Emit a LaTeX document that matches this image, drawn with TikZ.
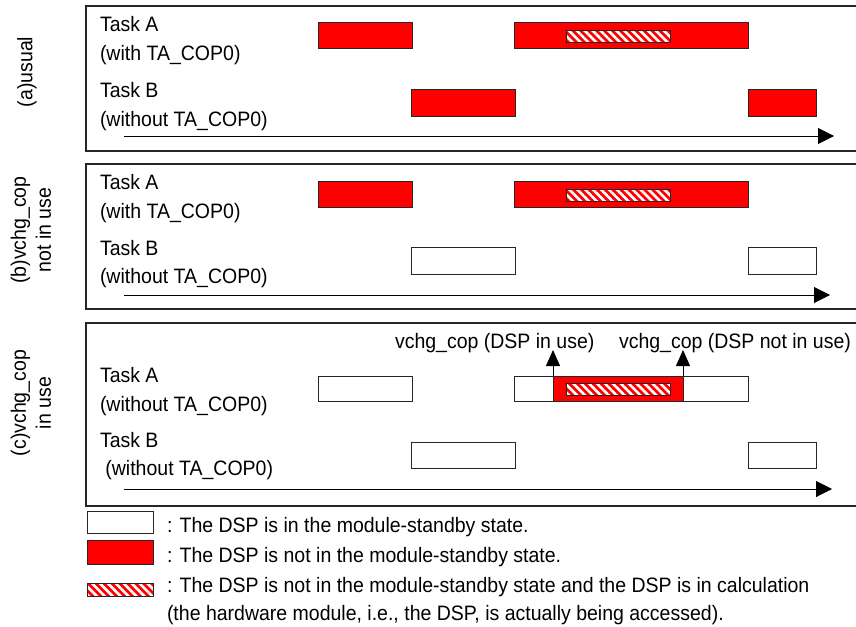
\documentclass[tikz,border=0pt]{standalone}
\usepackage{fontspec}
\usepackage{graphicx}
\setmainfont{Liberation Sans}
\usetikzlibrary{arrows.meta,patterns.meta}
\newcommand{\tallx}[1]{\scalebox{1}[1.07]{#1}}
\tikzset{
  txt/.style={inner sep=0pt, outer sep=0pt, anchor=base west, font=\fontsize{19.5}{25}\selectfont},
  sidelbl/.style={inner sep=0pt, rotate=90, align=center, font=\fontsize{19.5}{25}\selectfont},
  panel/.style={draw=black!85, line width=1.2pt},
  barbase/.style={draw=black!85, line width=1pt, inner sep=0pt, outer sep=0pt},
  redbar/.style={barbase, fill=red},
  whitebar/.style={barbase, fill=white},
  hatchbar/.style={barbase, preaction={fill=red}, pattern={Lines[angle=-45,distance=5.6pt,line width=2.6pt]}, pattern color=white},
  axis/.style={line width=1pt, -{Triangle[length=16pt,width=16pt]}},
  evt/.style={line width=1pt, -{Triangle[length=16pt,width=14pt]}},
}
\begin{document}
\begin{tikzpicture}[x=1pt,y=-1pt]
\useasboundingbox (0,0) rectangle (856,626);
\clip (0,0) rectangle (856,626);
% panels
\draw[panel] (86,6) rectangle (862,151);
\draw[panel] (86,164) rectangle (862,309);
\draw[panel] (86,323) rectangle (862,506);
% side labels
\node[sidelbl] (la) at (27,72) {\tallx{(a)usual}};
\node[sidelbl] (lb) at (31,230) {\tallx{(b)vchg\_cop}\\\tallx{not in use}};
\node[sidelbl] (lc) at (31,403) {\tallx{(c)vchg\_cop}\\\tallx{in use}};
% ---- panel (a)
\node[txt] (ta1) at (100,31.5) {\tallx{Task A}};
\node[txt] (ta2) at (100,60) {\tallx{(with TA\_COP0)}};
\node[txt] (ta3) at (100,97.5) {\tallx{Task B}};
\node[txt] (ta4) at (100,126) {\tallx{(without TA\_COP0)}};
\node[redbar, minimum width=94pt, minimum height=26pt] (aA1) at (365,36) {};
\node[redbar, minimum width=234pt, minimum height=26pt] (aA2) at (631,36) {};
\node[hatchbar, minimum width=104pt, minimum height=12pt] (aH) at (618,37) {};
\node[redbar, minimum width=104pt, minimum height=27pt] (aB1) at (463,102.5) {};
\node[redbar, minimum width=68pt, minimum height=27pt] (aB2) at (782,102.5) {};
\coordinate (ax0) at (124,136);
\coordinate (ax1) at (834,136);
\draw[axis] (ax0) -- (ax1);
% ---- panel (b)
\node[txt] (tb1) at (100,189) {\tallx{Task A}};
\node[txt] (tb2) at (100,218) {\tallx{(with TA\_COP0)}};
\node[txt] (tb3) at (100,255) {\tallx{Task B}};
\node[txt] (tb4) at (100,283) {\tallx{(without TA\_COP0)}};
\node[redbar, minimum width=94pt, minimum height=26pt] (bA1) at (365,194.5) {};
\node[redbar, minimum width=234pt, minimum height=26pt] (bA2) at (631,194.5) {};
\node[hatchbar, minimum width=104pt, minimum height=12pt] (bH) at (618,195) {};
\node[whitebar, minimum width=104pt, minimum height=27pt] (bB1) at (463,260.5) {};
\node[whitebar, minimum width=68pt, minimum height=27pt] (bB2) at (782,260.5) {};
\coordinate (bx0) at (124,295);
\coordinate (bx1) at (830,295);
\draw[axis] (bx0) -- (bx1);
% ---- panel (c)
\node[txt] (tc1) at (100,382.5) {\tallx{Task A}};
\node[txt] (tc2) at (100,411.5) {\tallx{(without TA\_COP0)}};
\node[txt] (tc3) at (100,447) {\tallx{Task B}};
\node[txt] (tc4) at (100,475.5) {\tallx{\ (without TA\_COP0)}};
\node[whitebar, minimum width=94pt, minimum height=25pt] (cA1) at (365,388.5) {};
\node[whitebar, minimum width=234pt, minimum height=25pt] (cA2) at (631,388.5) {};
\node[redbar, minimum width=130pt, minimum height=25pt] (cR) at (618,388.5) {};
\node[hatchbar, minimum width=104pt, minimum height=12pt] (cH) at (618,389) {};
\node[whitebar, minimum width=104pt, minimum height=26pt] (cB1) at (463,455) {};
\node[whitebar, minimum width=68pt, minimum height=26pt] (cB2) at (782,455) {};
\node[txt] (ev1) at (395,348) {\tallx{vchg\_cop (DSP in use)}};
\node[txt] (ev2) at (619,348) {\tallx{vchg\_cop (DSP not in use)}};
\coordinate (e1) at (553,350);
\coordinate (e2) at (683,350);
\draw[evt] (cR.north west) -- (e1);
\draw[evt] (cR.north east) -- (e2);
\coordinate (cx0) at (124,489);
\coordinate (cx1) at (832,489);
\draw[axis] (cx0) -- (cx1);
% ---- legend
\node[whitebar, minimum width=66pt, minimum height=22pt] (lg1) at (120,522) {};
\node[redbar, minimum width=66pt, minimum height=24pt] (lg2) at (120,552) {};
\node[hatchbar, minimum width=66pt, minimum height=13pt] (lg3) at (120,589.5) {};
\node[txt] (lt1) at (167,532) {\tallx{: The DSP is in the module-standby state.}};
\node[txt] (lt2) at (167,562) {\tallx{: The DSP is not in the module-standby state.}};
\node[txt] (lt3) at (167,592) {\tallx{: The DSP is not in the module-standby state and the DSP is in calculation}};
\node[txt] (lt4) at (167,620) {\tallx{(the hardware module, i.e., the DSP, is actually being accessed).}};
\end{tikzpicture}
\end{document}
